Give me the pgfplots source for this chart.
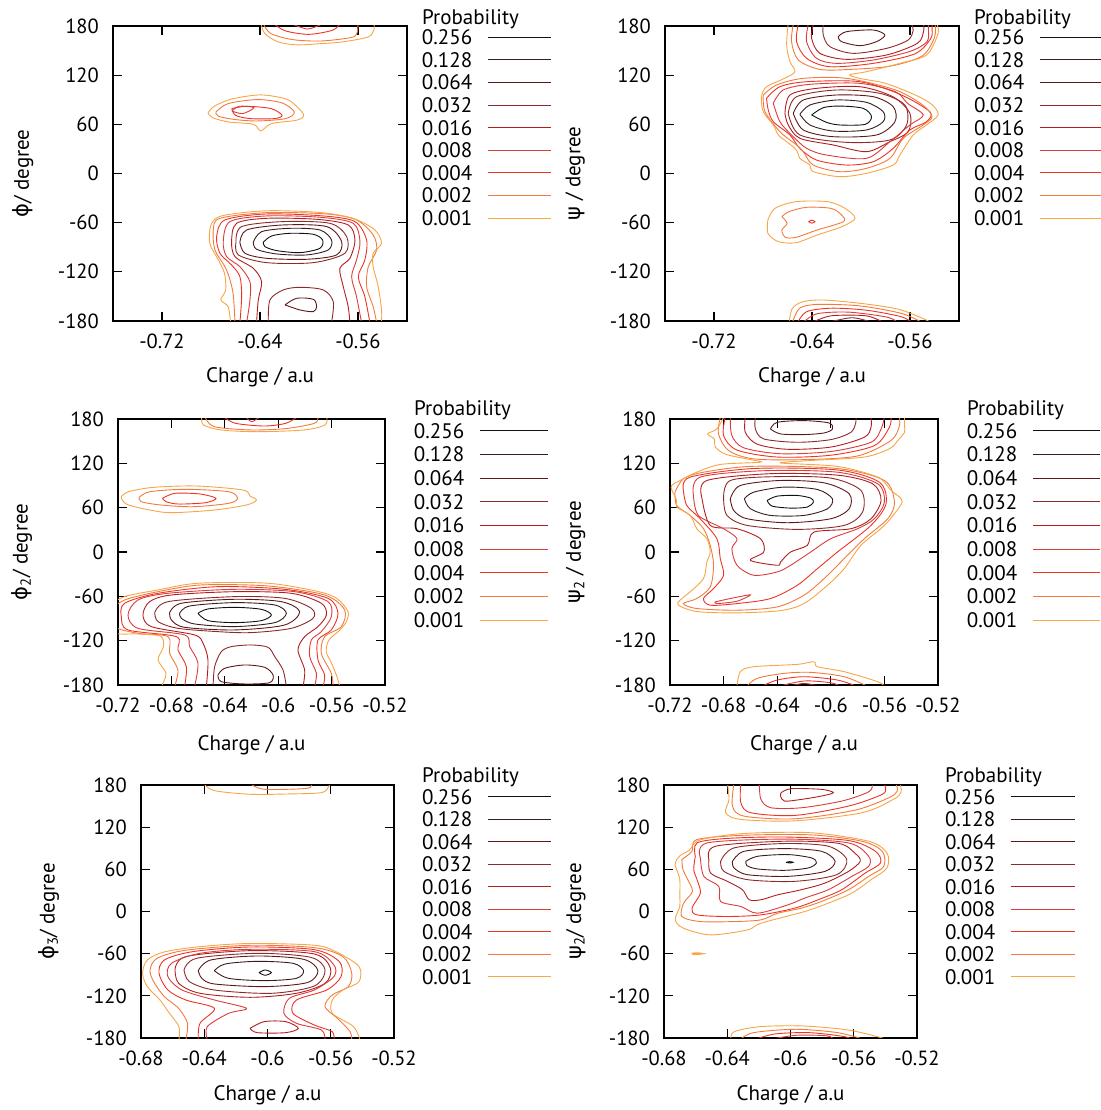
\documentclass[border=0pt]{standalone}
\usepackage{fontspec}
\setmainfont{PT Sans}
\newfontfamily\gr{DejaVu Sans}
\usepackage{pgfplots}
\pgfplotsset{compat=1.18}
\newcommand\fs{\fontsize{21bp}{24bp}\selectfont}
\newcommand\ft{\fontsize{20.5bp}{24bp}\selectfont}
\definecolor{c256}{HTML}{111111}
\definecolor{c128}{HTML}{3A1C1C}
\definecolor{c064}{HTML}{5C1818}
\definecolor{c032}{HTML}{8C2A2A}
\definecolor{c016}{HTML}{B01E1E}
\definecolor{c008}{HTML}{DB3C3C}
\definecolor{c004}{HTML}{EE3322}
\definecolor{c002}{HTML}{F27A3C}
\definecolor{c001}{HTML}{F7A545}
\pgfplotsset{
  gp/.style={
    scale only axis, clip=true,
    ymin=-180, ymax=180, ytick={-180,-120,-60,0,60,120,180},
    tick align=inside, tick pos=both,
    major tick length=9bp,
    axis line style={line width=1.2bp},
    every tick/.style={black, line width=1.2bp},
    tick label style={font=\ft},
    label style={font=\fs},
    /pgf/number format/assume math mode=true,
    yticklabel style={inner sep=0pt, anchor=east, xshift=-14bp},
    xticklabel style={inner sep=0pt, anchor=north, yshift=-13bp},
    legend plot pos=right,
    legend cell align=left,
    legend style={draw=none, fill=none, anchor=north west, inner sep=0pt, outer sep=0pt,
      column sep=15bp, font=\fs, nodes={inner sep=0pt, text height=14.7bp, text depth=0pt}},
    every axis plot/.append style={line width=0.9bp, smooth, tension=0.5},
  },
  legimg/.style={legend image code/.code={\draw[##1,line width=0.9bp] (0bp,0bp) -- (#1,0bp);}},
}
\newcommand\C[2]{\addplot[#1,forget plot] coordinates {#2};}
\newcommand\Leg{%
  \addlegendimage{c256}\addlegendentry{0.256}
  \addlegendimage{c128}\addlegendentry{0.128}
  \addlegendimage{c064}\addlegendentry{0.064}
  \addlegendimage{c032}\addlegendentry{0.032}
  \addlegendimage{c016}\addlegendentry{0.016}
  \addlegendimage{c008}\addlegendentry{0.008}
  \addlegendimage{c004}\addlegendentry{0.004}
  \addlegendimage{c002}\addlegendentry{0.002}
  \addlegendimage{c001}\addlegendentry{0.001}}
\begin{document}
\begin{tikzpicture}
\useasboundingbox (0,0) rectangle (1101bp,1110bp);
%================ Panel 1 =================
\begin{axis}[gp, at={(113bp,789bp)}, anchor=south west, width=294bp, height=295bp,
  xmin=-0.76, xmax=-0.52, xtick={-0.72,-0.64,-0.56},
  xlabel={Charge / a.u}, ylabel={{\gr ϕ}/ degree},
  xlabel style={at={(axis description cs:0.5,-0.19)}, anchor=center},
  ylabel style={at={(axis description cs:-0.306,0.5)}, anchor=center},
  legimg=63bp, legend style={at={(1.051,0.9866)}, row sep=7.9bp}]
\Leg
% top
\C{c001}{(-0.639,182) (-0.636,170.6) (-0.625,160.5) (-0.610,157) (-0.590,158.5) (-0.573,160.5) (-0.552,166.5) (-0.547,175) (-0.547,182)}
\C{c002}{(-0.637,182) (-0.631,170.6) (-0.613,163.3) (-0.590,161.7) (-0.566,165.8) (-0.561,170.6) (-0.560,182)}
\C{c004}{(-0.628,182) (-0.619,173.9) (-0.600,169.8) (-0.581,174.7) (-0.575,182)}
\C{c008}{(-0.613,182) (-0.601,176.3) (-0.590,182)}
% island
\C{c001}{(-0.6824,73.9) (-0.6774,82) (-0.6628,91) (-0.6394,95.9) (-0.6189,91) (-0.6102,82) (-0.6043,71) (-0.6102,65) (-0.6306,60.9) (-0.6394,52) (-0.6453,60) (-0.6657,62.9) (-0.6789,68.2) (-0.6824,73.9)}
\C{c002}{(-0.676,75) (-0.666,85.3) (-0.642,90.2) (-0.622,86.1) (-0.612,75) (-0.619,67) (-0.642,64.1) (-0.660,65.8) (-0.674,69.8) (-0.676,75)}
\C{c004}{(-0.663,79.2) (-0.651,82) (-0.631,79.2) (-0.622,71) (-0.628,67) (-0.648,67) (-0.660,71) (-0.663,79.2)}
\C{c008}{(-0.663,76.2) (-0.657,82) (-0.645,80.4) (-0.654,73.1) (-0.663,76.2)}
% bottom
\C{c256}{(-0.6373,-84.0) (-0.6305,-76.2) (-0.6156,-73.0) (-0.5965,-74.2) (-0.5889,-81.1) (-0.5911,-91.3) (-0.6074,-96.6) (-0.6264,-94.1) (-0.6360,-89.3) (-0.6373,-84.0)}
\C{c128}{(-0.6455,-84.0) (-0.6387,-71.0) (-0.6156,-66.9) (-0.5911,-68.9) (-0.5816,-81.1) (-0.5843,-93.3) (-0.6020,-99.4) (-0.6264,-98.2) (-0.6428,-92.5) (-0.6455,-84.0)}
\C{c064}{(-0.6564,-84.0) (-0.6509,-68.9) (-0.6210,-62.8) (-0.5856,-64.8) (-0.5734,-83.1) (-0.5775,-99.4) (-0.6020,-104.7) (-0.6346,-103.5) (-0.6523,-97.4) (-0.6564,-84.0)}
\C{c064}{(-0.6196,-160.4) (-0.6101,-152.3) (-0.5965,-153.5) (-0.5938,-162.5) (-0.5965,-168.6) (-0.6074,-166.5) (-0.6196,-160.4)}
\C{c032}{(-0.6596,-84) (-0.6550,-64.8) (-0.6210,-58.7) (-0.5829,-60.8) (-0.5693,-77.0) (-0.5707,-97.4) (-0.5965,-108.8) (-0.6346,-108.8) (-0.6577,-99.4) (-0.6596,-84)}
\C{c032}{(-0.6332,-182) (-0.6319,-154.3) (-0.6210,-142.1) (-0.6074,-138.9) (-0.5884,-142.1) (-0.5802,-156.4) (-0.5816,-182)}
\C{c016}{(-0.6428,-182) (-0.6414,-154.3) (-0.6387,-132) (-0.6455,-115.7) (-0.6604,-101.5) (-0.6632,-83.1) (-0.6591,-60.8) (-0.6346,-54.7) (-0.5938,-55.9) (-0.5680,-62.8) (-0.5625,-81.1) (-0.5666,-103.5) (-0.5748,-115.7) (-0.5720,-138.1) (-0.5680,-162.5) (-0.5666,-182)}
\C{c008}{(-0.6509,-182) (-0.6482,-154.3) (-0.6482,-132) (-0.6564,-113.7) (-0.6672,-101.5) (-0.6700,-83.1) (-0.6645,-58.7) (-0.6346,-51.8) (-0.5911,-53.4) (-0.5639,-60.8) (-0.5584,-83.1) (-0.5612,-105.5) (-0.5652,-125.9) (-0.5612,-150.3) (-0.5571,-182)}
\C{c004}{(-0.6564,-182) (-0.6550,-150.3) (-0.6564,-125.9) (-0.6632,-111.6) (-0.6727,-97.4) (-0.6754,-77.0) (-0.6686,-56.7) (-0.6346,-49.4) (-0.5884,-51.8) (-0.5625,-58.7) (-0.5530,-81.1) (-0.5544,-105.5) (-0.5598,-125.9) (-0.5544,-150.3) (-0.5503,-182)}
\C{c002}{(-0.6604,-182) (-0.6618,-148.2) (-0.6645,-129.9) (-0.6686,-113.7) (-0.6768,-93.3) (-0.6781,-68.9) (-0.6727,-54.7) (-0.6346,-47.8) (-0.5856,-49.4) (-0.5612,-56.7) (-0.5476,-75.0) (-0.5448,-93.3) (-0.5516,-113.7) (-0.5530,-138.1) (-0.5476,-162.5) (-0.5448,-182)}
\C{c001}{(-0.6640,-182) (-0.6660,-162.5) (-0.6720,-154.3) (-0.6680,-142.1) (-0.6690,-121.8) (-0.6740,-105.5) (-0.6810,-85.2) (-0.6800,-62.8) (-0.6710,-51.6) (-0.6346,-45.5) (-0.5911,-47.6) (-0.5639,-54.9) (-0.5462,-68.9) (-0.5408,-85.2) (-0.5476,-97.4) (-0.5476,-113.7) (-0.5435,-138.1) (-0.5408,-166.5) (-0.5408,-182)}
\end{axis}
%================ Panel 2 =================
\begin{axis}[gp, at={(665bp,789bp)}, anchor=south west, width=294bp, height=295bp,
  xmin=-0.76, xmax=-0.52, xtick={-0.72,-0.64,-0.56},
  xlabel={Charge / a.u}, ylabel={{\gr ψ} / degree},
  xlabel style={at={(axis description cs:0.5,-0.19)}, anchor=center},
  ylabel style={at={(axis description cs:-0.306,0.5)}, anchor=center},
  legimg=63bp, legend style={at={(1.051,0.9866)}, row sep=7.9bp}]
\Leg
% top
\C{c064}{(-0.6186,166.9) (-0.6118,173.1) (-0.5900,175.1) (-0.5805,169) (-0.5873,160.9) (-0.6009,156) (-0.6159,160.9) (-0.6186,166.9)}
\C{c032}{(-0.6308,182) (-0.6308,169) (-0.6254,154.8) (-0.6063,146.6) (-0.5791,152.7) (-0.5615,162.9) (-0.5574,175.1) (-0.5587,182)}
\C{c016}{(-0.6390,182) (-0.6403,164.9) (-0.6335,146.6) (-0.6118,139.3) (-0.5791,144.6) (-0.5540,158.8) (-0.5490,173) (-0.5490,182)}
\C{c008}{(-0.6431,182) (-0.6444,160.9) (-0.6363,140.5) (-0.6199,134.4) (-0.5900,138.5) (-0.5600,149) (-0.5460,161) (-0.5450,177) (-0.5450,182)}
\C{c004}{(-0.6512,182) (-0.6526,160.9) (-0.6444,140.5) (-0.6254,130.3) (-0.5900,134.4) (-0.5560,146) (-0.5430,164.9) (-0.5420,177) (-0.5420,182)}
\C{c002}{(-0.6553,182) (-0.6567,160.9) (-0.6512,138.5) (-0.6335,127) (-0.6091,127) (-0.5760,131) (-0.5500,143.5) (-0.5400,166) (-0.5395,182)}
% middle
\C{c256}{(-0.6403,71.4) (-0.6308,80.3) (-0.6172,82.3) (-0.5982,79.5) (-0.5914,69.3) (-0.5968,59.9) (-0.6172,59.2) (-0.6281,62.4) (-0.6403,71.4)}
\C{c128}{(-0.6499,72.2) (-0.6417,83.6) (-0.6199,89.7) (-0.5955,86.8) (-0.5819,75.4) (-0.5819,63.2) (-0.5955,53.1) (-0.6227,51.8) (-0.6417,59.2) (-0.6499,72.2)}
\C{c064}{(-0.6553,73.4) (-0.6471,89.7) (-0.6199,95.8) (-0.5900,93.7) (-0.5737,81.5) (-0.5723,63.2) (-0.5873,47.0) (-0.6227,44.9) (-0.6471,53.1) (-0.6553,73.4)}
\C{c032}{(-0.6594,73.4) (-0.6526,93.7) (-0.6199,101.9) (-0.5846,97.8) (-0.5642,83.6) (-0.5628,59.2) (-0.5764,40.9) (-0.6118,38.0) (-0.6499,47.0) (-0.6594,73.4)}
\C{c016}{(-0.6621,73.4) (-0.6580,95.8) (-0.6363,103.9) (-0.6009,105.9) (-0.5740,93.7) (-0.5601,73.4) (-0.5615,51.0) (-0.5764,38.8) (-0.5955,26.6) (-0.6227,34.8) (-0.6499,42.9) (-0.6594,59.2) (-0.6621,73.4)}
\C{c008}{(-0.6716,85.6) (-0.6635,101.9) (-0.6417,108.8) (-0.6009,110.0) (-0.5720,99.8) (-0.5620,85.6) (-0.5492,71.4) (-0.5601,59.2) (-0.5764,38.8) (-0.5955,18.5) (-0.6281,22.5) (-0.6444,30.7) (-0.6567,47.0) (-0.6662,63.2) (-0.6716,85.6)}
\C{c004}{(-0.6771,91.7) (-0.6662,105.9) (-0.6444,112.0) (-0.6009,112.0) (-0.5680,96.5) (-0.5438,75.4) (-0.5465,63.2) (-0.5601,53.1) (-0.5737,30.7) (-0.5900,14.4) (-0.6118,10.3) (-0.6363,16.4) (-0.6499,30.7) (-0.6580,47.0) (-0.6716,63.2) (-0.6757,77.5) (-0.6771,91.7)}
\C{c002}{(-0.6798,95.8) (-0.6689,108) (-0.6471,116.1) (-0.6118,116.1) (-0.5720,102) (-0.5500,84) (-0.5420,69.3) (-0.5492,59.2) (-0.5655,42.9) (-0.5764,18.5) (-0.5955,6.3) (-0.6172,2.2) (-0.6390,10.3) (-0.6471,26.6) (-0.6526,34.8) (-0.6662,51.0) (-0.6784,75.4) (-0.6798,95.8)}
\C{c001}{(-0.6594,183.2) (-0.6607,156.8) (-0.6580,136.5) (-0.6539,124.2) (-0.6635,115.3) (-0.6771,105.9) (-0.6812,93.7) (-0.6798,75.4) (-0.6716,59.2) (-0.6675,47.0) (-0.6607,38.8) (-0.6526,28.7) (-0.6499,18.5) (-0.6417,10.3) (-0.6390,2.2) (-0.6172,-3.9) (-0.5955,0.2) (-0.5737,10.3) (-0.5683,22.5) (-0.5574,47.0) (-0.5465,59.2) (-0.5370,71.4) (-0.5420,84) (-0.5560,96) (-0.5800,110) (-0.6009,116) (-0.6091,120.4) (-0.5955,124.2) (-0.5683,134.4) (-0.5465,144.6) (-0.5370,171.0) (-0.5383,183.2)}
% island
\C{c001}{(-0.6760,-56.8) (-0.6703,-42.6) (-0.6531,-34.4) (-0.6273,-34.4) (-0.6130,-42.6) (-0.6049,-54.8) (-0.6158,-65.0) (-0.6359,-75.1) (-0.6531,-84.5) (-0.6674,-83.2) (-0.6760,-73.1) (-0.6760,-56.8)}
\C{c002}{(-0.6646,-52.7) (-0.6588,-46.6) (-0.6445,-41.3) (-0.6244,-42.6) (-0.6158,-50.7) (-0.6144,-58.8) (-0.6359,-69.0) (-0.6531,-77.9) (-0.6617,-77.9) (-0.6646,-69.0) (-0.6603,-60.9) (-0.6646,-52.7)}
\C{c004}{(-0.6428,-58.8) (-0.6402,-57.0) (-0.6376,-58.8) (-0.6402,-60.6) (-0.6428,-58.8)}
% bottom
\C{c001}{(-0.6588,-182) (-0.6560,-164.6) (-0.6474,-156.5) (-0.6302,-154.4) (-0.5958,-159.3) (-0.5671,-166.6) (-0.5420,-182)}
\C{c002}{(-0.6560,-182) (-0.6502,-164.6) (-0.6359,-159.8) (-0.6015,-161.5) (-0.5671,-170.7) (-0.5499,-182)}
\C{c004}{(-0.6517,-182) (-0.6445,-168.7) (-0.6244,-164.4) (-0.5958,-166.8) (-0.5671,-174.8) (-0.5585,-182)}
\C{c008}{(-0.6474,-182) (-0.6359,-171.2) (-0.6101,-169.2) (-0.5786,-175.3) (-0.5700,-182)}
\C{c016}{(-0.6402,-182) (-0.6244,-173.7) (-0.5958,-173.7) (-0.5814,-182)}
\C{c032}{(-0.6273,-182) (-0.6073,-176) (-0.5901,-182)}
\end{axis}
%================ Panel 3 =================
\begin{axis}[gp, at={(118bp,425bp)}, anchor=south west, width=267bp, height=266bp,
  xmin=-0.72, xmax=-0.52, xtick={-0.72,-0.68,-0.64,-0.6,-0.56,-0.52},
  xlabel={Charge / a.u}, ylabel={{\gr ϕ}\textsubscript{2}/ degree},
  xlabel style={at={(axis description cs:0.5,-0.2256)}, anchor=center},
  ylabel style={at={(axis description cs:-0.360,0.5)}, anchor=center},
  legimg=68bp, legend style={at={(1.1086,0.9836)}, row sep=8.96bp}]
\Leg
% top
\C{c001}{(-0.6573,182) (-0.6559,171.8) (-0.6425,165.1) (-0.6158,162.8) (-0.5810,165.1) (-0.5650,171.8) (-0.5636,182)}
\C{c002}{(-0.6546,182) (-0.6479,169.6) (-0.6212,165.2) (-0.5944,167.0) (-0.5730,174.1) (-0.5703,182)}
\C{c004}{(-0.6399,182) (-0.6319,174.1) (-0.6105,170.5) (-0.5944,174.1) (-0.5864,182)}
\C{c008}{(-0.6238,182) (-0.6198,176.3) (-0.6145,182)}
% island
\C{c001}{(-0.7175,74.8) (-0.7121,81.6) (-0.6934,87.5) (-0.6613,89.3) (-0.6265,83.9) (-0.6212,75.8) (-0.6163,70.3) (-0.6238,63.6) (-0.6479,56.8) (-0.6800,53.2) (-0.6961,56.8) (-0.7121,63.6) (-0.7169,70.3) (-0.7175,74.8)}
\C{c002}{(-0.7041,73.9) (-0.6961,81.6) (-0.6693,84.8) (-0.6372,81.6) (-0.6305,72.6) (-0.6372,65.8) (-0.6640,61.3) (-0.6880,63.6) (-0.7027,68.1) (-0.7041,73.9)}
\C{c004}{(-0.6867,72.6) (-0.6773,79.4) (-0.6586,78.5) (-0.6466,72.6) (-0.6546,66.7) (-0.6747,64.9) (-0.6840,68.1) (-0.6867,72.6)}
% bottom
\C{c256}{(-0.6601,-83.0) (-0.6526,-77.1) (-0.6326,-74.9) (-0.6126,-77.6) (-0.6051,-85.2) (-0.6126,-92.9) (-0.6326,-95.6) (-0.6526,-92.9) (-0.6601,-83.0)}
\C{c128}{(-0.6738,-83.0) (-0.6663,-73.1) (-0.6326,-68.5) (-0.6026,-71.7) (-0.5939,-83.0) (-0.6026,-95.6) (-0.6326,-101.0) (-0.6626,-97.4) (-0.6726,-89.7) (-0.6738,-83.0)}
\C{c064}{(-0.6813,-82.1) (-0.6726,-69.4) (-0.6326,-64.0) (-0.5977,-67.2) (-0.5839,-80.7) (-0.5952,-98.8) (-0.6326,-105.5) (-0.6701,-101.9) (-0.6800,-92.0) (-0.6813,-82.1)}
\C{c064}{(-0.6451,-166.4) (-0.6401,-157.4) (-0.6251,-152.9) (-0.6101,-156.1) (-0.6039,-166.4) (-0.6064,-176.8) (-0.6251,-178.6) (-0.6426,-175.5) (-0.6451,-166.4)}
\C{c032}{(-0.6925,-82.1) (-0.6825,-67.2) (-0.6326,-60.4) (-0.5952,-62.7) (-0.5752,-76.2) (-0.5739,-89.7) (-0.5902,-103.3) (-0.6201,-109.1) (-0.6451,-107.8) (-0.6751,-103.3) (-0.6900,-94.3) (-0.6925,-82.1)}
\C{c032}{(-0.6488,-182) (-0.6476,-155.2) (-0.6426,-134.9) (-0.6351,-128.1) (-0.6201,-125.8) (-0.6076,-129.0) (-0.6026,-141.6) (-0.5964,-159.7) (-0.5939,-182)}
\C{c016}{(-0.6538,-182) (-0.6526,-146.1) (-0.6563,-123.6) (-0.6626,-112.3) (-0.6950,-101.0) (-0.7013,-85.2) (-0.6963,-67.2) (-0.6800,-58.2) (-0.6326,-53.7) (-0.5902,-55.9) (-0.5677,-69.4) (-0.5639,-85.2) (-0.5702,-101.0) (-0.5802,-114.6) (-0.5852,-132.6) (-0.5802,-159.7) (-0.5814,-182)}
\C{c008}{(-0.6626,-182) (-0.6601,-150.6) (-0.6663,-128.1) (-0.6701,-112.3) (-0.7050,-103.3) (-0.7125,-85.2) (-0.7050,-64.9) (-0.6825,-55.9) (-0.6326,-50.5) (-0.5877,-53.7) (-0.5627,-67.2) (-0.5602,-87.5) (-0.5677,-107.8) (-0.5752,-119.1) (-0.5764,-141.6) (-0.5714,-164.2) (-0.5727,-182)}
\C{c004}{(-0.6701,-182) (-0.6688,-155.2) (-0.6751,-132.6) (-0.6763,-114.6) (-0.7125,-105.5) (-0.7175,-87.5) (-0.7150,-69.4) (-0.6900,-55.9) (-0.6451,-46.9) (-0.5952,-50.5) (-0.5627,-62.7) (-0.5552,-83.0) (-0.5602,-105.5) (-0.5702,-119.1) (-0.5702,-146.1) (-0.5652,-166.4) (-0.5664,-182)}
\C{c002}{(-0.6776,-182) (-0.6751,-159.7) (-0.6813,-137.1) (-0.6825,-114.6) (-0.7050,-110.0) (-0.7225,-101.0) (-0.7237,-78.5) (-0.7150,-64.9) (-0.6900,-53.7) (-0.6576,-44.6) (-0.6076,-46.0) (-0.5652,-58.2) (-0.5502,-78.5) (-0.5527,-101.0) (-0.5652,-114.6) (-0.5677,-137.1) (-0.5602,-164.2) (-0.5589,-182)}
\C{c001}{(-0.6875,-182) (-0.6840,-164.2) (-0.6900,-146.1) (-0.6860,-128.1) (-0.6880,-114) (-0.7050,-111) (-0.7240,-108) (-0.7250,-74.0) (-0.7150,-60.4) (-0.6900,-51.4) (-0.6601,-42.3) (-0.6076,-42.3) (-0.5702,-53.5) (-0.5560,-63) (-0.5477,-80.7) (-0.5490,-94.3) (-0.5540,-106) (-0.5620,-119.1) (-0.5640,-135) (-0.5600,-150.6) (-0.5560,-168.7) (-0.5539,-182)}
\end{axis}
%================ Panel 4 =================
\begin{axis}[gp, at={(670bp,425bp)}, anchor=south west, width=268bp, height=266bp,
  xmin=-0.72, xmax=-0.52, xtick={-0.72,-0.68,-0.64,-0.6,-0.56,-0.52},
  xlabel={Charge / a.u}, ylabel={{\gr ψ}\textsubscript{2} / degree},
  xlabel style={at={(axis description cs:0.5,-0.2256)}, anchor=center},
  ylabel style={at={(axis description cs:-0.352,0.5)}, anchor=center},
  legimg=67bp, legend style={at={(1.108,0.9836)}, row sep=8.96bp}]
\Leg
% top
\C{c064}{(-0.645,166.5) (-0.640,175.5) (-0.620,177.8) (-0.6013,174.6) (-0.5988,166.5) (-0.605,161.1) (-0.620,158.9) (-0.6375,159.8) (-0.645,166.5)}
\C{c032}{(-0.6563,182.3) (-0.6563,166.5) (-0.650,153) (-0.625,148.5) (-0.600,152.1) (-0.585,162) (-0.5813,175.5) (-0.5813,182.3)}
\C{c016}{(-0.6638,182.3) (-0.6638,162) (-0.655,146) (-0.6325,139) (-0.600,142) (-0.575,155.3) (-0.570,168.8) (-0.570,182.3)}
\C{c008}{(-0.675,182.3) (-0.6738,157.5) (-0.665,141) (-0.6375,133) (-0.600,136) (-0.570,148.5) (-0.5625,166.5) (-0.560,182.3)}
\C{c004}{(-0.6788,182.3) (-0.680,157.5) (-0.670,138) (-0.640,128.5) (-0.600,131) (-0.5675,144) (-0.5563,168.8) (-0.555,182.3)}
\C{c002}{(-0.6825,182.3) (-0.6838,159.8) (-0.6763,137.3) (-0.6575,126) (-0.620,125) (-0.580,130) (-0.555,151) (-0.5488,171) (-0.549,182.3)}
% middle
\C{c256}{(-0.6475,69.8) (-0.640,75.6) (-0.625,76.5) (-0.615,72.9) (-0.613,67.5) (-0.6175,60.8) (-0.630,59.4) (-0.6438,62.1) (-0.6475,69.8)}
\C{c128}{(-0.6645,72) (-0.6575,81) (-0.635,87.8) (-0.610,84.6) (-0.5988,72) (-0.6025,58.5) (-0.620,49.5) (-0.645,49.5) (-0.660,58.5) (-0.6645,72)}
\C{c064}{(-0.675,72) (-0.6675,90) (-0.6375,96.8) (-0.605,93.6) (-0.5863,78.8) (-0.5863,58.5) (-0.600,45) (-0.6325,39.6) (-0.6625,45) (-0.6725,56.3) (-0.675,72)}
\C{c032}{(-0.680,72) (-0.675,96.8) (-0.640,102) (-0.600,100) (-0.5775,83.3) (-0.5763,54) (-0.590,36) (-0.625,30.6) (-0.6625,36) (-0.6775,49.5) (-0.680,72)}
\C{c016}{(-0.6963,74.3) (-0.6925,96.8) (-0.645,106) (-0.595,104) (-0.5688,92.3) (-0.5625,69.8) (-0.570,45) (-0.585,31.5) (-0.6125,27) (-0.6175,9) (-0.630,0) (-0.6375,-13.5) (-0.640,-18) (-0.660,-11.3) (-0.650,0) (-0.6525,18) (-0.670,31.5) (-0.690,36) (-0.6963,74.3)}
\C{c008}{(-0.7025,76.5) (-0.6975,101.3) (-0.650,110) (-0.595,108) (-0.565,92.3) (-0.560,67.5) (-0.5675,45) (-0.580,31.5) (-0.600,18) (-0.615,0) (-0.630,-18) (-0.640,-27) (-0.6575,-31.5) (-0.670,-18) (-0.6738,4.5) (-0.670,18) (-0.680,31.5) (-0.6988,49.5) (-0.7025,76.5)}
\C{c008}{(-0.6863,-67.5) (-0.675,-63) (-0.660,-58) (-0.670,-66.6) (-0.685,-69.8) (-0.6863,-67.5)}
\C{c004}{(-0.710,83.3) (-0.705,101.3) (-0.6575,113) (-0.595,111) (-0.5638,94.5) (-0.5588,65.3) (-0.570,36) (-0.595,0) (-0.610,-22.5) (-0.625,-45) (-0.645,-63) (-0.670,-69.8) (-0.690,-72) (-0.695,-63) (-0.6875,-49.5) (-0.680,-31.5) (-0.6825,-9) (-0.685,18) (-0.6975,45) (-0.7075,63) (-0.710,83.3)}
\C{c002}{(-0.7163,81) (-0.710,99) (-0.695,108) (-0.6575,116) (-0.595,113) (-0.560,96.8) (-0.5525,67.5) (-0.5575,45) (-0.575,18) (-0.590,-9) (-0.605,-36) (-0.620,-58.5) (-0.640,-74.3) (-0.670,-78.8) (-0.700,-76.5) (-0.710,-69.8) (-0.700,-63) (-0.690,-47.3) (-0.6875,-18) (-0.690,9) (-0.695,31.5) (-0.705,49.5) (-0.715,63) (-0.7163,81)}
\C{c001}{(-0.6800,182.3) (-0.6850,166.5) (-0.6920,159.8) (-0.6870,153) (-0.6860,141.8) (-0.6780,132) (-0.6600,125) (-0.6525,121.5) (-0.6825,118.5) (-0.7000,108) (-0.7125,96.8) (-0.7188,90) (-0.7185,83.3) (-0.7150,69.8) (-0.7150,60.8) (-0.705,49.5) (-0.700,31.5) (-0.6925,18) (-0.690,0) (-0.6925,-13.5) (-0.695,-36) (-0.705,-54) (-0.7125,-65.3) (-0.7138,-72) (-0.700,-80.6) (-0.670,-82.4) (-0.6375,-79.3) (-0.620,-69.8) (-0.6025,-45) (-0.590,-22.5) (-0.5775,9) (-0.5600,36) (-0.548,63) (-0.5475,72) (-0.555,83.3) (-0.565,101.3) (-0.595,115.8) (-0.6375,120.5) (-0.615,123.8) (-0.575,128.5) (-0.556,140) (-0.550,151) (-0.5450,162) (-0.545,171) (-0.545,182.3)}
% bottom
\C{c001}{(-0.670,-182) (-0.6675,-162) (-0.6575,-155.3) (-0.625,-152.1) (-0.6125,-148.5) (-0.610,-155.3) (-0.590,-162) (-0.565,-175.5) (-0.560,-182)}
\C{c002}{(-0.663,-182.3) (-0.655,-171) (-0.635,-164.3) (-0.615,-162.9) (-0.590,-168.8) (-0.572,-182.3)}
\C{c004}{(-0.652,-182.3) (-0.640,-173.3) (-0.620,-168.8) (-0.595,-173.3) (-0.580,-182.3)}
\C{c008}{(-0.640,-182.3) (-0.620,-174.6) (-0.600,-177) (-0.592,-182.3)}
\C{c016}{(-0.632,-182.3) (-0.620,-178) (-0.606,-182.3)}
\end{axis}
%================ Panel 5 =================
\begin{axis}[gp, at={(141bp,72bp)}, anchor=south west, width=253bp, height=253bp,
  xmin=-0.68, xmax=-0.52, xtick={-0.68,-0.64,-0.6,-0.56,-0.52},
  xlabel={Charge / a.u}, ylabel={{\gr ϕ}\textsubscript{3}/ degree},
  xlabel style={at={(axis description cs:0.5,-0.2253)}, anchor=center},
  ylabel style={at={(axis description cs:-0.364,0.5)}, anchor=center},
  legimg=63bp, legend style={at={(1.1107,0.9828)}, row sep=7.8bp}]
\Leg
% top
\C{c001}{(-0.6404,182) (-0.6336,172) (-0.611,166.8) (-0.5885,167.2) (-0.5659,169.1) (-0.5614,177.7) (-0.5602,182)}
\C{c002}{(-0.611,182) (-0.602,173.9) (-0.5749,175.3) (-0.5727,182)}
% main
\C{c256}{(-0.6054,-87) (-0.6015,-83.2) (-0.5975,-87) (-0.6015,-90.8) (-0.6054,-87)}
\C{c128}{(-0.6336,-84.2) (-0.6268,-74.7) (-0.6065,-70.9) (-0.5839,-73.7) (-0.5772,-84.2) (-0.5817,-95.1) (-0.602,-98.4) (-0.6246,-95.1) (-0.6336,-84.2)}
\C{c064}{(-0.6438,-84.2) (-0.6359,-69) (-0.6065,-63.3) (-0.5772,-68) (-0.5681,-84.2) (-0.5749,-101.2) (-0.602,-106.9) (-0.6336,-103.1) (-0.6415,-95.1) (-0.6438,-84.2)}
\C{c032}{(-0.6528,-83.2) (-0.6449,-66.6) (-0.6065,-59.5) (-0.5727,-65.2) (-0.5636,-83.2) (-0.5704,-106) (-0.5975,-116.4) (-0.6336,-111.7) (-0.6494,-99.8) (-0.6528,-83.2)}
\C{c016}{(-0.6585,-83.2) (-0.6517,-64.2) (-0.611,-55.7) (-0.5704,-60.4) (-0.5602,-80.8) (-0.5636,-102.2) (-0.5817,-116.4) (-0.611,-122.1) (-0.6427,-116.4) (-0.6562,-102.2) (-0.6585,-83.2)}
\C{c016}{(-0.611,-166.2) (-0.602,-156.7) (-0.5885,-156.7) (-0.5805,-166.2) (-0.5885,-172.4) (-0.6065,-172.4) (-0.611,-166.2)}
\C{c008}{(-0.6381,-182.8) (-0.6381,-163.8) (-0.6246,-144.9) (-0.6133,-137.8) (-0.6336,-125.9) (-0.654,-111.7) (-0.663,-92.7) (-0.6607,-73.7) (-0.6427,-59.5) (-0.611,-53.8) (-0.5704,-57.1) (-0.558,-76.1) (-0.558,-92.7) (-0.5704,-111.7) (-0.5862,-123.5) (-0.5896,-144.9) (-0.5817,-159.1) (-0.5659,-168.6) (-0.5636,-182.8)}
\C{c004}{(-0.6438,-182.8) (-0.6427,-159.1) (-0.6336,-137.8) (-0.6517,-125.9) (-0.663,-111.7) (-0.6686,-87.9) (-0.6652,-69) (-0.6472,-57.1) (-0.611,-50.5) (-0.5704,-54.3) (-0.5546,-71.3) (-0.5535,-92.7) (-0.5625,-111.7) (-0.5817,-125.9) (-0.5839,-144.9) (-0.5704,-161.5) (-0.5591,-171) (-0.558,-182.8)}
\C{c002}{(-0.6517,-182.8) (-0.6506,-159.1) (-0.6562,-137.8) (-0.6652,-121.2) (-0.672,-99.8) (-0.6743,-83.2) (-0.6698,-66.6) (-0.6517,-55.1) (-0.611,-48.1) (-0.5704,-51.4) (-0.5523,-64.2) (-0.5467,-87.9) (-0.5489,-106.9) (-0.5591,-118.8) (-0.5636,-135.4) (-0.5546,-154.4) (-0.5478,-171) (-0.5467,-182.8)}
\C{c001}{(-0.6560,-182.8) (-0.6560,-163.8) (-0.6620,-144.9) (-0.6680,-125.9) (-0.6760,-106.9) (-0.6790,-87.9) (-0.6760,-69) (-0.6652,-57.5) (-0.6427,-50) (-0.611,-45.5) (-0.5704,-48) (-0.5569,-57) (-0.5422,-78) (-0.5422,-100) (-0.5523,-111.7) (-0.5590,-125.9) (-0.5590,-144.9) (-0.5456,-163.8) (-0.5415,-182.8)}
\end{axis}
%================ Panel 6 =================
\begin{axis}[gp, at={(664bp,72bp)}, anchor=south west, width=253bp, height=253bp,
  xmin=-0.68, xmax=-0.52, xtick={-0.68,-0.64,-0.6,-0.56,-0.52},
  xlabel={Charge / a.u}, ylabel={{\gr ψ}\textsubscript{2}/ degree},
  xlabel style={at={(axis description cs:0.5,-0.2253)}, anchor=center},
  ylabel style={at={(axis description cs:-0.348,0.5)}, anchor=center},
  legimg=64bp, legend style={at={(1.1107,0.9828)}, row sep=7.8bp}]
\Leg
% top
\C{c016}{(-0.6059,169.1) (-0.5995,174.8) (-0.5804,173.8) (-0.5729,169.1) (-0.5804,164.3) (-0.5931,159.5) (-0.6038,157.1) (-0.6063,164.3) (-0.6059,169.1)}
\C{c008}{(-0.6197,183.3) (-0.6187,159.5) (-0.6123,147.6) (-0.5931,147.6) (-0.5676,157.1) (-0.5516,169.1) (-0.5484,176.2) (-0.5484,183.3)}
\C{c004}{(-0.6314,183.3) (-0.6314,154.8) (-0.625,140.5) (-0.5974,136.7) (-0.5633,150) (-0.542,166.7) (-0.5399,176.2) (-0.541,183.3)}
\C{c002}{(-0.6357,183.3) (-0.6367,150) (-0.6293,135.7) (-0.5974,131.9) (-0.559,144.3) (-0.5378,161.9) (-0.5325,171.4) (-0.5335,183.3)}
\C{c001}{(-0.6399,183.3) (-0.6389,159.5) (-0.641,140.5) (-0.6314,131) (-0.5974,129) (-0.5548,140.5) (-0.5350,159.5) (-0.5300,170) (-0.5310,183.3)}
% middle
\C{c256}{(-0.6027,70) (-0.6005,71) (-0.5984,70) (-0.6005,69) (-0.6027,70)}
\C{c128}{(-0.6282,71.4) (-0.6208,78.6) (-0.6016,81) (-0.5867,76.2) (-0.5836,69.1) (-0.5889,61.9) (-0.6038,58.6) (-0.6208,60.5) (-0.6276,65.3) (-0.6282,71.4)}
\C{c064}{(-0.6367,71.4) (-0.6293,85.7) (-0.6038,89.5) (-0.5804,85.7) (-0.5718,71.4) (-0.5782,57.1) (-0.6016,50) (-0.6272,52.4) (-0.6357,61.9) (-0.6367,71.4)}
\C{c032}{(-0.6442,71.4) (-0.6357,90.5) (-0.6038,96.7) (-0.5761,92.9) (-0.5644,73.8) (-0.5708,52.4) (-0.5974,42.9) (-0.6272,45.3) (-0.6421,57.1) (-0.6442,71.4)}
\C{c016}{(-0.6516,73.8) (-0.6474,92.9) (-0.6038,100) (-0.5697,97) (-0.559,82.4) (-0.5559,71.4) (-0.5633,57.1) (-0.5782,40.5) (-0.5931,31) (-0.608,23.8) (-0.6187,16.7) (-0.6261,16.7) (-0.6304,31) (-0.6399,42.9) (-0.6506,54.8) (-0.6516,73.8)}
\C{c008}{(-0.657,76.2) (-0.6527,97.6) (-0.6038,103) (-0.5633,97.6) (-0.5506,78.6) (-0.5506,64.3) (-0.5612,50) (-0.5761,31) (-0.591,19.1) (-0.6016,9.5) (-0.6208,-2.4) (-0.6314,7.1) (-0.6442,14.3) (-0.6453,35.7) (-0.6548,50) (-0.657,76.2)}
\C{c004}{(-0.6602,78.6) (-0.6591,97.6) (-0.6399,104) (-0.6038,106) (-0.5633,101) (-0.5463,85.7) (-0.5431,69.1) (-0.5527,54.8) (-0.5676,31) (-0.5825,16.7) (-0.5974,4.8) (-0.6187,-4.8) (-0.6399,-7.1) (-0.6591,-4.8) (-0.6623,4.8) (-0.657,26.2) (-0.6591,45.3) (-0.6612,59.5) (-0.6602,78.6)}
\C{c002}{(-0.6687,73.8) (-0.6623,85.7) (-0.6591,102.4) (-0.6293,108.5) (-0.5867,109) (-0.5548,100) (-0.542,85.7) (-0.541,64.3) (-0.5506,50) (-0.5633,31) (-0.5804,14.3) (-0.5931,4.8) (-0.608,-2.4) (-0.6187,-11.9) (-0.6357,-14.3) (-0.657,-14.3) (-0.6687,-7.1) (-0.6676,11.9) (-0.6620,28.6) (-0.6650,45.3) (-0.6680,59.5) (-0.6687,73.8)}
\C{c001}{(-0.6720,73.8) (-0.6690,81) (-0.6640,87.1) (-0.657,102) (-0.6293,111) (-0.5867,112) (-0.5506,100) (-0.539,83.3) (-0.5390,61.9) (-0.5490,45.3) (-0.5612,26.2) (-0.5761,11.9) (-0.591,0) (-0.6187,-16.7) (-0.6272,-26.2) (-0.6506,-33.3) (-0.6676,-23.8) (-0.6729,-11.9) (-0.6700,7.1) (-0.6700,21.4) (-0.6700,45.3) (-0.6720,59.5) (-0.6730,66.7) (-0.6720,73.8)}
\C{c001,line width=1.8bp}{(-0.6625,-60) (-0.6595,-59.3) (-0.6565,-60) (-0.6595,-60.7) (-0.6625,-60)}
% bottom
\C{c001}{(-0.6378,-182.8) (-0.6356,-171) (-0.6189,-163.8) (-0.5923,-162.9) (-0.5635,-168.6) (-0.5413,-180.4) (-0.540,-183)}
\C{c002}{(-0.6322,-182.8) (-0.6234,-172.4) (-0.5967,-167.6) (-0.5701,-172.4) (-0.5524,-182.8)}
\C{c004}{(-0.6234,-182.8) (-0.6100,-174.3) (-0.5879,-172.4) (-0.5657,-178.1) (-0.5613,-182.8)}
\C{c008}{(-0.6145,-182.8) (-0.5967,-176.2) (-0.5768,-177) (-0.5724,-182.8)}
\end{axis}
% legend titles
\node[anchor=base west, inner sep=0pt, font=\fs] at (422bp,1085bp) {Probability};
\node[anchor=base west, inner sep=0pt, font=\fs] at (974bp,1085bp) {Probability};
\node[anchor=base west, inner sep=0pt, font=\fs] at (414bp,694.3bp) {Probability};
\node[anchor=base west, inner sep=0pt, font=\fs] at (967bp,694.3bp) {Probability};
\node[anchor=base west, inner sep=0pt, font=\fs] at (422bp,327.3bp) {Probability};
\node[anchor=base west, inner sep=0pt, font=\fs] at (945bp,327.3bp) {Probability};
\end{tikzpicture}
\end{document}
